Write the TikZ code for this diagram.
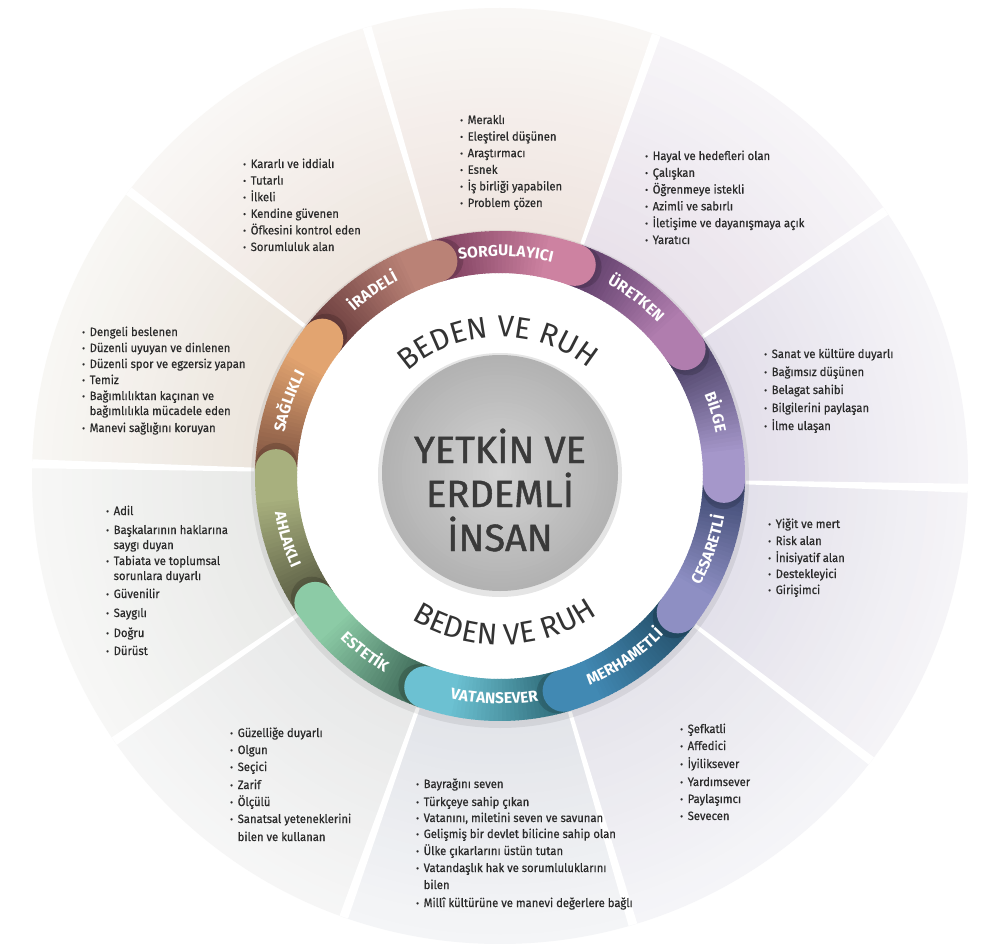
\documentclass[tikz,border=0pt]{standalone}
\usepackage{graphicx}
\usepackage{fontspec}
\setmainfont{Fira Sans}[FakeStretch=0.94, FakeBold=0.6]
\newfontfamily\titlefont{Fira Sans}[FakeBold=1.2]
\newfontfamily\labfont{Fira Sans}
\usetikzlibrary{decorations.text}
% ring colours (dark start / light end)
\definecolor{sorgD}{HTML}{874766}\definecolor{sorgL}{HTML}{CD82A1}
\definecolor{uretD}{HTML}{664470}\definecolor{uretL}{HTML}{B07DAE}
\definecolor{bilgD}{HTML}{554A70}\definecolor{bilgL}{HTML}{A597CA}
\definecolor{cesaD}{HTML}{48527C}\definecolor{cesaL}{HTML}{8E8FC3}
\definecolor{merhD}{HTML}{285672}\definecolor{merhL}{HTML}{4189B3}
\definecolor{vataD}{HTML}{357482}\definecolor{vataL}{HTML}{6CC1D2}
\definecolor{esteD}{HTML}{467260}\definecolor{esteL}{HTML}{8CCBA6}
\definecolor{ahlaD}{HTML}{62654A}\definecolor{ahlaL}{HTML}{A8B07E}
\definecolor{saglD}{HTML}{8C5E48}\definecolor{saglL}{HTML}{E2A470}
\definecolor{iradD}{HTML}{704242}\definecolor{iradL}{HTML}{BA8276}
% sector tints (inner / outer)
\definecolor{sBi}{HTML}{E3DFEA}\definecolor{sBo}{HTML}{F6F5F8}
\definecolor{sUi}{HTML}{E8E1EA}\definecolor{sUo}{HTML}{F7F5F8}
\definecolor{sSi}{HTML}{EFE4DF}\definecolor{sSo}{HTML}{F9F7F5}
\definecolor{sIi}{HTML}{EEE5DE}\definecolor{sIo}{HTML}{F9F7F5}
\definecolor{sHi}{HTML}{ECE5DD}\definecolor{sHo}{HTML}{F8F7F4}
\definecolor{sAi}{HTML}{E8E9E7}\definecolor{sAo}{HTML}{F7F7F6}
\definecolor{sEi}{HTML}{E7E8E8}\definecolor{sEo}{HTML}{F6F6F6}
\definecolor{sVi}{HTML}{E2E4E9}\definecolor{sVo}{HTML}{F4F5F7}
\definecolor{sMi}{HTML}{E5E4EB}\definecolor{sMo}{HTML}{F5F5F8}
\definecolor{sCi}{HTML}{E2E0EA}\definecolor{sCo}{HTML}{F5F4F7}
\definecolor{listc}{HTML}{2A2A2A}
\definecolor{titlec}{HTML}{3A3A3A}
\definecolor{bedenc}{HTML}{333333}
\definecolor{gIn}{HTML}{D4D4D4}\definecolor{gOut}{HTML}{B2B2B2}
\tikzset{
  listtxt/.style={font=\fontsize{12}{14}\selectfont, text=listc, inner sep=0pt, anchor=base west},
  titletxt/.style={font=\titlefont\fontsize{38}{40}\selectfont, text=titlec, inner sep=0pt, anchor=base},
}
\newcommand\bu{\makebox[7.5pt][l]{\raisebox{0.6pt}{\scalebox{0.75}{•}}}}
\newcommand\li[4]{\node[listtxt] (#1) at (#2,-#3) {\bu #4};}
\newcommand\lc[4]{\node[listtxt] (#1) at (#2+7.5,-#3) {#4};}
\newcommand\toplab[2]{\path[decorate, decoration={text along path,
   text={|\labfont\bfseries\fontsize{15.5}{15.5}\selectfont|#2}, text align=center, text color=white}]
   (#1+25:220) arc[start angle=#1+25, end angle=#1-25, radius=220];}
\newcommand\botlab[2]{\path[decorate, decoration={text along path,
   text={|\labfont\bfseries\fontsize{15.5}{15.5}\selectfont|#2}, text align=center, text color=white}]
   (#1-25:228) arc[start angle=#1-25, end angle=#1+25, radius=228];}
\begin{document}
\begin{tikzpicture}[x=1pt,y=1pt]
\useasboundingbox (0,0) rectangle (988,-944);
\fill[white] (0,0) rectangle (988,-944);
\begin{scope}[shift={(500,-476)}]
  % sectors
  \foreach \c/\ci/\co in {16.5/sBi/sBo, 52.5/sUi/sUo, 88.5/sSi/sSo, 124.5/sIi/sIo, 160.5/sHi/sHo,
      196.5/sAi/sAo, 232.5/sEi/sEo, 268.5/sVi/sVo, 304.5/sMi/sMo, 340.5/sCi/sCo}{
    \begin{scope}
      \clip (0,0) -- (\c-18:480) arc[start angle=\c-18, end angle=\c+18, radius=480] -- cycle;
      \foreach \i in {0,...,22}{
        \pgfmathsetmacro\r{468-\i*10}
        \pgfmathtruncatemacro\p{\i*100/22}
        \fill[\ci!\p!\co] (0,0) circle[radius=\r];
      }
    \end{scope}
  }
  % dividers
  \foreach \a in {-1.5,34.5,...,322.5}{
    \fill[white] (\a-0.45:246) -- (\a-0.55:468) -- (\a+0.55:468) -- (\a+0.45:246) -- cycle;
  }
  % ring shadow and inner white disc
  \fill[black, opacity=0.07] (0,-3) circle[radius=249];
  \fill[white] (0,0) circle[radius=204];
  % ring bodies
  \foreach \c/\dk/\lt in {88.5/sorgD/sorgL, 52.5/uretD/uretL, 16.5/bilgD/bilgL, -19.5/cesaD/cesaL,
      -55.5/merhD/merhL, -91.5/vataD/vataL, -127.5/esteD/esteL, -163.5/ahlaD/ahlaL,
      160.5/saglD/saglL, 124.5/iradD/iradL}{
    \foreach \j in {0,...,35}{
      \pgfmathsetmacro\aa{\c+18-\j}
      \pgfmathsetmacro\bb{\c+18-\j-1.3}
      \pgfmathtruncatemacro\p{min(100,max(0,(\j-4)*100/24))}
      \fill[\lt!\p!\dk] (\aa:203) arc[start angle=\aa, end angle=\bb, radius=203]
        -- (\bb:245) arc[start angle=\bb, end angle=\aa, radius=245] -- cycle;
    }
  }
  % rounded light ends
  \foreach \c/\lt in {88.5/sorgL, 52.5/uretL, 16.5/bilgL, -19.5/cesaL, -55.5/merhL,
      -91.5/vataL, -127.5/esteL, -163.5/ahlaL, 160.5/saglL, 124.5/iradL}{
    \fill[black, opacity=0.16] (\c-19.6:224) circle[radius=21];
    \fill[\lt] (\c-18:224) circle[radius=21];
  }
  % ring labels
  \toplab{88.5}{SORGULAYICI}
  \toplab{52.5}{ÜRETKEN}
  \toplab{16.5}{BİLGE}
  \toplab{124.5}{İRADELİ}
  \toplab{160.5}{SAĞLIKLI}
  \botlab{340.5}{CESARETLİ}
  \botlab{304.5}{MERHAMETLİ}
  \botlab{268.5}{VATANSEVER}
  \botlab{232.5}{ESTETİK}
  \botlab{196.5}{AHLAKLI}
  % central grey disc
  \fill[black, opacity=0.10] (0,1) circle[radius=122];
  \foreach \i in {0,...,29}{
    \pgfmathsetmacro\r{118-\i*118/30}
    \pgfmathtruncatemacro\p{\i*100/29}
    \fill[gIn!\p!gOut] (0,3) circle[radius=\r];
  }
  % BEDEN VE RUH arcs
  \path[decorate, decoration={text along path,
     text={|\labfont\fontsize{30}{30}\selectfont|BEDEN VE RUH}, text align=center, text color=bedenc}]
     (151:139) arc[start angle=151, end angle=31, radius=139];
  \path[decorate, decoration={text along path,
     text={|\labfont\fontsize{30}{30}\selectfont|BEDEN VE RUH}, text align=center, text color=bedenc}]
     (211.7:169) arc[start angle=211.7, end angle=331.7, radius=169];
\end{scope}
% centre title
\node[titletxt] (t1) at (500,-463) {YETKİN VE};
\node[titletxt] (t2) at (500,-507) {ERDEMLİ};
\node[titletxt] (t3) at (500,-551) {İNSAN};
% SORGULAYICI
\li{so1}{460}{124}{Meraklı}
\li{so2}{460}{140.6}{Eleştirel düşünen}
\li{so3}{460}{157.2}{Araştırmacı}
\li{so4}{460}{173.8}{Esnek}
\li{so5}{460}{190.4}{İş birliği yapabilen}
\li{so6}{460}{207}{Problem çözen}
% IRADELI
\li{ir1}{243}{168}{Kararlı ve iddialı}
\li{ir2}{243}{184.6}{Tutarlı}
\li{ir3}{243}{201.2}{İlkeli}
\li{ir4}{243}{217.8}{Kendine güvenen}
\li{ir5}{243}{234.4}{Öfkesini kontrol eden}
\li{ir6}{243}{251}{Sorumluluk alan}
% URETKEN
\li{ur1}{645}{160}{Hayal ve hedefleri olan}
\li{ur2}{645}{176.8}{Çalışkan}
\li{ur3}{645}{193.6}{Öğrenmeye istekli}
\li{ur4}{645}{210.4}{Azimli ve sabırlı}
\li{ur5}{645}{227.2}{İletişime ve dayanışmaya açık}
\li{ur6}{645}{244}{Yaratıcı}
% SAGLIKLI
\li{sa1}{82}{336}{Dengeli beslenen}
\li{sa2}{82}{352}{Düzenli uyuyan ve dinlenen}
\li{sa3}{82}{368}{Düzenli spor ve egzersiz yapan}
\li{sa4}{82}{384}{Temiz}
\li{sa5}{82}{400}{Bağımlılıktan kaçınan ve}
\lc{sa6}{82}{415}{bağımlılıkla mücadele eden}
\li{sa7}{82}{432}{Manevi sağlığını koruyan}
% BILGE
\li{bi1}{764}{358}{Sanat ve kültüre duyarlı}
\li{bi2}{764}{376}{Bağımsız düşünen}
\li{bi3}{764}{394}{Belagat sahibi}
\li{bi4}{764}{412}{Bilgilerini paylaşan}
\li{bi5}{764}{430}{İlme ulaşan}
% AHLAKLI
\li{ah1}{106}{515}{Adil}
\li{ah2}{106}{534}{Başkalarının haklarına}
\lc{ah3}{106}{549}{saygı duyan}
\li{ah4}{106}{565}{Tabiata ve toplumsal}
\lc{ah5}{106}{580}{sorunlara duyarlı}
\li{ah6}{106}{598}{Güvenilir}
\li{ah7}{106}{617}{Saygılı}
\li{ah8}{106}{637}{Doğru}
\li{ah9}{106}{655}{Dürüst}
% CESARETLI
\li{ce1}{768}{528}{Yiğit ve mert}
\li{ce2}{768}{545}{Risk alan}
\li{ce3}{768}{562}{İnisiyatif alan}
\li{ce4}{768}{578}{Destekleyici}
\li{ce5}{768}{594}{Girişimci}
% ESTETIK
\li{es1}{230}{737}{Güzelliğe duyarlı}
\li{es2}{230}{754}{Olgun}
\li{es3}{230}{771}{Seçici}
\li{es4}{230}{789}{Zarif}
\li{es5}{230}{806}{Ölçülü}
\li{es6}{230}{823}{Sanatsal yeteneklerini}
\lc{es7}{230}{841}{bilen ve kullanan}
% VATANSEVER
\li{va1}{416}{788}{Bayrağını seven}
\li{va2}{416}{806}{Türkçeye sahip çıkan}
\li{va3}{416}{822}{Vatanını, miletini seven ve savunan}
\li{va4}{416}{838}{Gelişmiş bir devlet bilicine sahip olan}
\li{va5}{416}{855}{Ülke çıkarlarını üstün tutan}
\li{va6}{416}{872}{Vatandaşlık hak ve sorumluluklarını}
\lc{va7}{416}{889}{bilen}
\li{va8}{416}{907}{Millî kültürüne ve manevi değerlere bağlı}
% MERHAMETLI
\li{me1}{680}{733}{Şefkatli}
\li{me2}{680}{750}{Affedici}
\li{me3}{680}{768}{İyiliksever}
\li{me4}{680}{786}{Yardımsever}
\li{me5}{680}{803}{Paylaşımcı}
\li{me6}{680}{820}{Sevecen}
\end{tikzpicture}
\end{document}
